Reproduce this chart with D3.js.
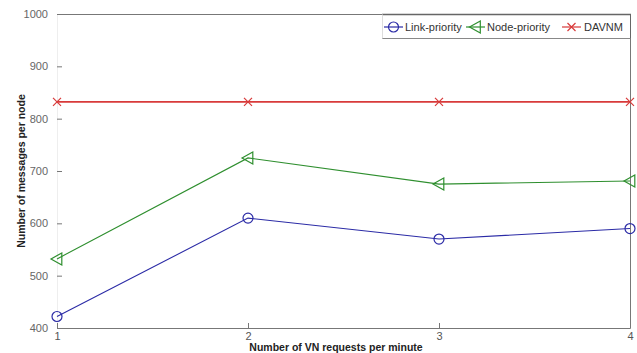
<!DOCTYPE html>
<html>
<head>
<meta charset="utf-8">
<script src="https://cdn.jsdelivr.net/npm/d3@7"></script>
<style>
  html, body { margin: 0; padding: 0; background: #fff; }
  svg { display: block; font-family: "Liberation Sans", Arial, sans-serif; }
</style>
</head>
<body>
<svg id="chart" width="637" height="353"></svg>
<script>
// Messages per node versus VN request rate
const xValues = [1, 2, 3, 4];
const linkPriority = [422, 610, 570, 590];
const nodePriority = [532, 725, 675, 681];
const davnm = [832, 832, 832, 832];
const yTicks = [400, 500, 600, 700, 800, 900, 1000];
const seriesNames = ["Link-priority", "Node-priority", "DAVNM"];

const svg = d3.select("#chart");
const x = d3.scaleLinear().domain([1, 4]).range([57, 630]);
const y = d3.scaleLinear().domain([400, 1000]).range([328, 14]);
const axisColor = "#777";

// frame: top, right, bottom; left edge is very faint
const frame = svg.append("g").attr("fill", "none").attr("stroke-width", 1);
frame.append("line").attr("x1", 57).attr("x2", 630.5).attr("y1", 14.5).attr("y2", 14.5).attr("stroke", axisColor);
frame.append("line").attr("x1", 630.5).attr("x2", 630.5).attr("y1", 14.5).attr("y2", 328.5).attr("stroke", axisColor);
frame.append("line").attr("x1", 57).attr("x2", 630.5).attr("y1", 328.5).attr("y2", 328.5).attr("stroke", axisColor);
frame.append("line").attr("x1", 57.5).attr("x2", 57.5).attr("y1", 14.5).attr("y2", 328.5).attr("stroke", "#eee");

// y axis (ticks point inward)
const yAxis = d3.axisLeft(y).tickValues(yTicks).tickSize(-5).tickPadding(9).tickFormat(d3.format("d"));
const gy = svg.append("g").attr("transform", "translate(57,0)").call(yAxis);
gy.select(".domain").remove();
gy.selectAll(".tick line").attr("stroke", axisColor);
gy.selectAll(".tick text").attr("fill", "#666").attr("font-size", 11);

// x axis (ticks point inward)
const xAxis = d3.axisBottom(x).tickValues(xValues).tickSize(-5).tickPadding(4).tickFormat(d3.format("d"));
const gx = svg.append("g").attr("transform", "translate(0,328)").call(xAxis);
gx.select(".domain").remove();
gx.selectAll(".tick line").attr("stroke", axisColor);
gx.selectAll(".tick text").attr("fill", "#555").attr("font-size", 11);

// axis titles
svg.append("text")
  .attr("x", 336).attr("y", 351)
  .attr("text-anchor", "middle")
  .attr("font-size", 10.5).attr("font-weight", "bold").attr("fill", "#222")
  .text("Number of VN requests per minute");
svg.append("text")
  .attr("transform", "translate(25,171) rotate(-90)")
  .attr("text-anchor", "middle")
  .attr("font-size", 10.5).attr("font-weight", "bold").attr("fill", "#222")
  .text("Number of messages per node");

// series
const series = [
  { name: seriesNames[0], values: linkPriority, color: "#2b2ba6", marker: "circle" },
  { name: seriesNames[1], values: nodePriority, color: "#2f8f2f", marker: "triangle" },
  { name: seriesNames[2], values: davnm, color: "#d83a3a", marker: "cross" }
];

function drawMarker(g, type, cx, cy, color) {
  if (type === "circle") {
    g.append("circle").attr("cx", cx).attr("cy", cy).attr("r", 5)
      .attr("fill", "none").attr("stroke", color).attr("stroke-width", 1.2);
  } else if (type === "triangle") {
    const s = 6;
    g.append("path")
      .attr("d", `M${cx - s},${cy} L${cx + s * 0.8},${cy - s} L${cx + s * 0.8},${cy + s} Z`)
      .attr("fill", "none").attr("stroke", color).attr("stroke-width", 1.2);
  } else {
    const s = 4;
    g.append("path")
      .attr("d", `M${cx - s},${cy - s} L${cx + s},${cy + s} M${cx - s},${cy + s} L${cx + s},${cy - s}`)
      .attr("fill", "none").attr("stroke", color).attr("stroke-width", 1.2);
  }
}

const line = d3.line().x((d, i) => x(xValues[i])).y(d => y(d));
series.forEach(s => {
  const g = svg.append("g");
  g.append("path").datum(s.values).attr("d", line)
    .attr("fill", "none").attr("stroke", s.color)
    .attr("stroke-width", s.marker === "cross" ? 1.8 : 1.1);
  s.values.forEach((v, i) => drawMarker(g, s.marker, x(xValues[i]), y(v), s.color));
});

// legend
const lg = svg.append("g");
lg.append("rect").attr("x", 382.5).attr("y", 14.5).attr("width", 248).attr("height", 24)
  .attr("fill", "#fff").attr("stroke", "none");
lg.append("line").attr("x1", 382).attr("x2", 631).attr("y1", 14.5).attr("y2", 14.5).attr("stroke", "#666").attr("stroke-width", 1.5);
lg.append("line").attr("x1", 382).attr("x2", 631).attr("y1", 38.5).attr("y2", 38.5).attr("stroke", "#888");
lg.append("line").attr("x1", 382.5).attr("x2", 382.5).attr("y1", 14.5).attr("y2", 38.5).attr("stroke", "#ddd");
lg.append("line").attr("x1", 630.5).attr("x2", 630.5).attr("y1", 14.5).attr("y2", 38.5).attr("stroke", "#666");

const legendItems = [
  { lx: 384, tx: 405 },
  { lx: 466, tx: 487 },
  { lx: 562, tx: 584 }
];
series.forEach((s, i) => {
  const it = legendItems[i];
  const cy = 27;
  lg.append("line").attr("x1", it.lx).attr("x2", it.lx + 19).attr("y1", cy).attr("y2", cy)
    .attr("stroke", s.color).attr("stroke-width", 1.2);
  drawMarker(lg, s.marker, it.lx + 9.5, cy, s.color);
  lg.append("text").attr("x", it.tx).attr("y", cy + 4)
    .attr("font-size", 11).attr("fill", "#333").text(s.name);
});
</script>
</body>
</html>
